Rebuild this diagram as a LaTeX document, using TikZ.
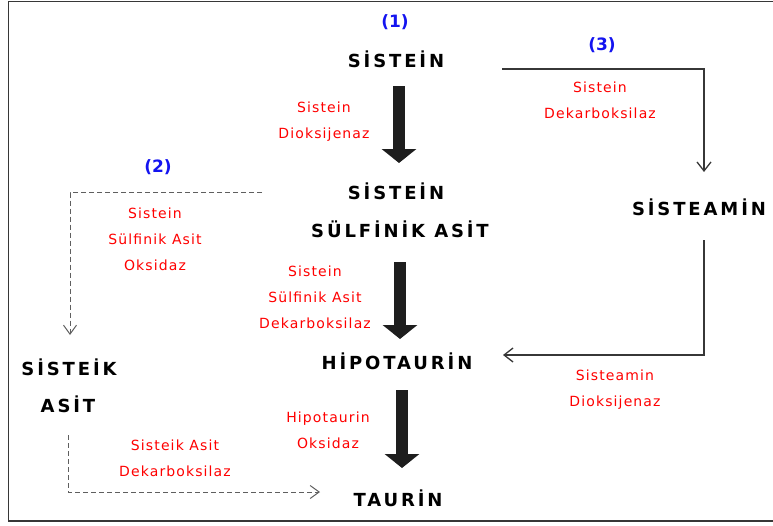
\documentclass[tikz,border=0pt]{standalone}
\usepackage{fontspec}
\setmainfont{DejaVu Sans}
\newfontfamily\blkfont[LetterSpace=16]{DejaVu Sans}
\newfontfamily\redfont[LetterSpace=8]{DejaVu Sans}
\usetikzlibrary{arrows.meta}
\definecolor{redtxt}{RGB}{255,0,0}
\definecolor{bluetxt}{RGB}{20,20,240}
\definecolor{linegray}{RGB}{55,55,55}
\definecolor{arrowblack}{RGB}{30,30,30}
\begin{document}
\begin{tikzpicture}[x=1pt,y=-1pt,
  chem/.style={font=\blkfont\bfseries\fontsize{18}{21}\selectfont, inner sep=0pt, text height=13pt, text depth=0pt},
  enz/.style={font=\redfont\fontsize{14}{26}\selectfont, text=redtxt, align=center, inner sep=0pt},
  num/.style={font=\bfseries\fontsize{17}{20}\selectfont, text=bluetxt, inner sep=0pt},
  bigarrow/.style={draw=arrowblack, line width=12pt, -{Triangle[length=14pt,width=34pt]}},
  solidarrow/.style={draw=linegray, line width=1.3pt, -{Straight Barb[length=9pt,width=14pt]}},
  dasharrow/.style={draw=linegray!80, line width=1pt, dash pattern=on 5pt off 3pt, -{Straight Barb[length=9pt,width=13pt]}},
  frameline/.style={draw=linegray, line width=1.5pt}]
\useasboundingbox (0,0) rectangle (773,525);
\draw[frameline] (773,1.5) -- (8.5,1.5) -- (8.5,521) -- (773,521);

% compounds
\node[chem] (sistein) at (396,61) {SİSTEİN};
\node[chem] (sistein2) at (396,193) {SİSTEİN};
\node[chem] (sulfinik) at (400,231) {SÜLFİNİK ASİT};
\node[chem] (sisteamin) at (699,209) {SİSTEAMİN};
\node[chem] (hipotaurin) at (397,363) {HİPOTAURİN};
\node[chem] (sisteik) at (69,369) {SİSTEİK};
\node[chem] (asit) at (68,406) {ASİT};
\node[chem] (taurin) at (398,500) {TAURİN};

% pathway numbers
\node[num] (n1) at (395,22) {(1)};
\node[num] (n2) at (158,167) {(2)};
\node[num] (n3) at (602,45) {(3)};

% enzymes
\node[enz] (e1) at (324,122) {Sistein\\Dioksijenaz};
\node[enz] (e2) at (155,239) {Sistein\\Sülfinik Asit\\Oksidaz};
\node[enz] (e3) at (315,297) {Sistein\\Sülfinik Asit\\Dekarboksilaz};
\node[enz] (e4) at (600,100) {Sistein\\Dekarboksilaz};
\node[enz] (e5) at (615,390) {Sisteamin\\Dioksijenaz};
\node[enz] (e6) at (328,430) {Hipotaurin\\Oksidaz};
\node[enz] (e7) at (175,458) {Sisteik Asit\\Dekarboksilaz};

% main pathway
\draw[bigarrow] ([shift={(3,25)}]sistein.center) -- ([shift={(3,-30)}]sistein2.center);
\draw[bigarrow] ([shift={(0,31)}]sulfinik.center) -- ([shift={(3,-24)}]hipotaurin.center);
\draw[bigarrow] ([shift={(5,27)}]hipotaurin.center) -- ([shift={(4,-32)}]taurin.center);

% pathway 3
\draw[solidarrow] ([shift={(106,8)}]sistein.center) -| ([shift={(5,-37)}]sisteamin.center);
\draw[solidarrow] ([shift={(5,31)}]sisteamin.center) |- ([shift={(106,-8)}]hipotaurin.center);

% pathway 2
\draw[dasharrow] ([shift={(-134,-0.5)}]sistein2.center) -| ([shift={(1,-34)}]sisteik.center);
\draw[dasharrow] ([shift={(0,29)}]asit.center) |- ([shift={(-78,-8)}]taurin.center);
\end{tikzpicture}
\end{document}
